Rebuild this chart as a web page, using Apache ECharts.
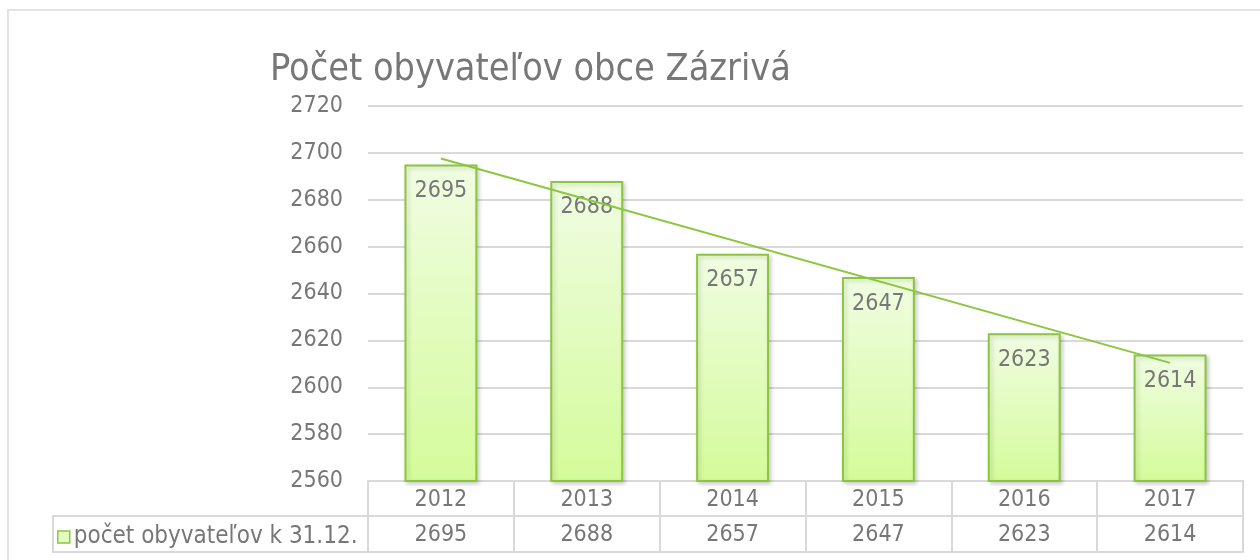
<!DOCTYPE html>
<html>
<head>
<meta charset="utf-8">
<script src="https://cdn.jsdelivr.net/npm/echarts@6/dist/echarts.min.js"></script>
<style>
html,body{margin:0;padding:0;background:#fff;}
#chart{width:1260px;height:560px;}
</style>
</head>
<body>
<div id="chart"></div>
<script>
const titleText = 'Počet obyvateľov obce Zázrivá';
const seriesName = 'počet obyvateľov k 31.12.';
const years = ['2012', '2013', '2014', '2015', '2016', '2017'];
const population = [2695, 2688, 2657, 2647, 2623, 2614];
// linear trendline end values (first and last category)
const trendEnds = [2697.6, 2610.4];
const yTicks = { min: 2560, max: 2720, interval: 20 };

const FONT = '"DejaVu Sans Condensed", "Liberation Sans", Arial, sans-serif';
const GRAY = '#777777';
const LINE = '#d9d9d9';
const GREEN = '#8cc63e';

const chart = echarts.init(document.getElementById('chart'), null, { renderer: 'canvas' });
chart.setOption({
  animation: false,
  backgroundColor: '#fff',
  textStyle: { fontFamily: FONT },
  title: {
    text: titleText,
    left: 270,
    top: 51,
    padding: 0,
    textStyle: { fontFamily: FONT, fontSize: 37.5, fontWeight: 'normal', color: GRAY }
  },
  legend: {
    data: [{ name: seriesName, itemStyle: { color: '#e2fcc0', borderColor: GREEN, borderWidth: 1.5 } }],
    left: 57,
    top: 525,
    padding: 0,
    icon: 'rect',
    itemWidth: 12,
    itemHeight: 12,
    textStyle: { fontFamily: FONT, fontSize: 24, color: GRAY, padding: [0, 0, 0, -1] }
  },
  graphic: [
    { type: 'rect', silent: true, shape: { x: 8, y: 10, width: 1400, height: 700 },
      style: { fill: 'none', stroke: LINE, lineWidth: 1.5 } },
    { type: 'rect', silent: true, shape: { x: 53, y: 516, width: 315, height: 36 },
      style: { fill: 'none', stroke: LINE, lineWidth: 2 } }
  ],
  grid: { left: 368, right: 17, top: 106, bottom: 79, containLabel: false },
  xAxis: [
    {
      type: 'category', data: years, position: 'bottom', boundaryGap: true,
      axisLine: { show: true, lineStyle: { color: LINE, width: 2 } },
      axisTick: { show: true, length: 71, interval: 0, lineStyle: { color: LINE, width: 2 } },
      axisLabel: { fontFamily: FONT, fontSize: 23, color: GRAY, margin: 8, interval: 0 },
      splitLine: { show: false }
    },
    {
      type: 'category', data: population.map(String), position: 'bottom', offset: 35,
      axisLine: { show: true, lineStyle: { color: LINE, width: 2 } },
      axisTick: { show: false },
      axisLabel: { fontFamily: FONT, fontSize: 23, color: GRAY, margin: 8, interval: 0 },
      splitLine: { show: false }
    },
    {
      type: 'category', data: years, position: 'bottom', offset: 71,
      axisLine: { show: true, lineStyle: { color: LINE, width: 2 } },
      axisTick: { show: false },
      axisLabel: { show: false },
      splitLine: { show: false }
    }
  ],
  yAxis: {
    type: 'value', min: yTicks.min, max: yTicks.max, interval: yTicks.interval,
    axisLine: { show: false },
    axisTick: { show: false },
    axisLabel: { fontFamily: FONT, fontSize: 23, color: GRAY, margin: 25, formatter: v => String(v) },
    splitLine: { show: true, lineStyle: { color: LINE, width: 2 } }
  },
  series: [
    {
      name: seriesName,
      type: 'bar',
      xAxisIndex: 0,
      data: population,
      barWidth: '50%',
      itemStyle: {
        color: new echarts.graphic.LinearGradient(0, 0, 0, 1, [
          { offset: 0, color: '#f0fde2' },
          { offset: 1, color: '#d4fb9a' }
        ]),
        borderColor: GREEN,
        borderWidth: 2,
        shadowColor: 'rgba(0,0,0,0.18)',
        shadowBlur: 4,
        shadowOffsetX: 2,
        shadowOffsetY: 2
      },
      label: {
        show: true, position: 'insideTop', distance: 15,
        fontFamily: FONT, fontSize: 23, color: GRAY
      },
      z: 2
    },
    {
      name: 'trend',
      type: 'line',
      xAxisIndex: 0,
      data: [[0, trendEnds[0]], [years.length - 1, trendEnds[1]]],
      symbol: 'none',
      lineStyle: { color: GREEN, width: 2 },
      silent: true,
      z: 3
    }
  ]
});
</script>
</body>
</html>
